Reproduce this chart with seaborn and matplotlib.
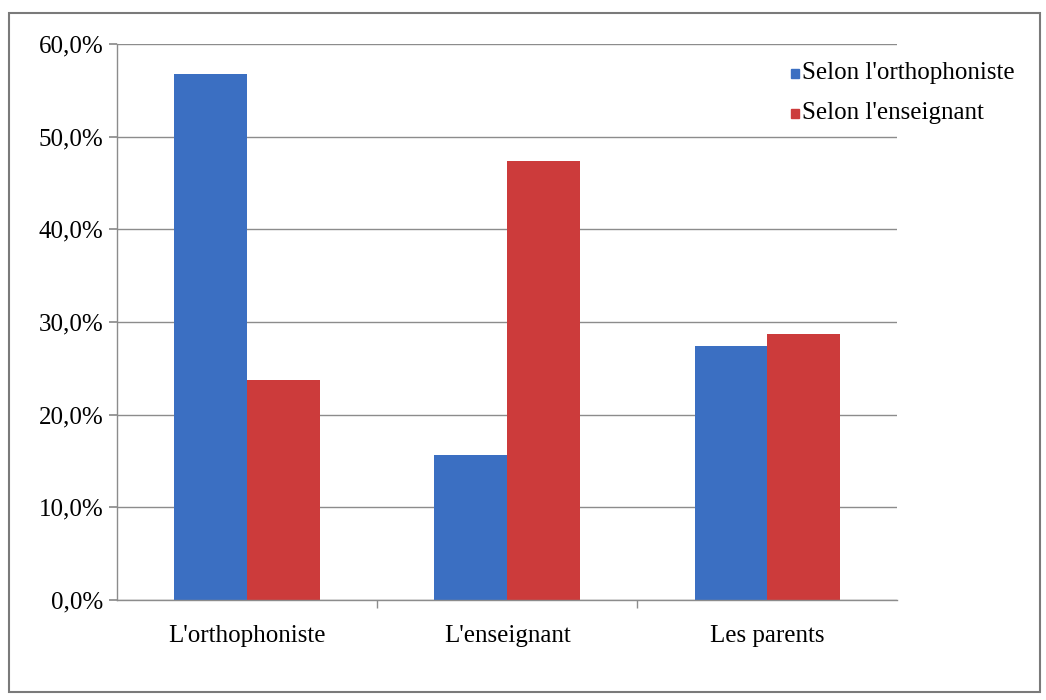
import matplotlib
matplotlib.use("Agg")
import matplotlib.pyplot as plt
from matplotlib.patches import Rectangle
from matplotlib.ticker import FuncFormatter
import pandas as pd
import seaborn as sns

sns.set_theme(style="white")
plt.rcParams["font.family"] = ["Liberation Serif", "DejaVu Serif"]

categories = ["L'orthophoniste", "L'enseignant", "Les parents"]
series = ["Selon l'orthophoniste", "Selon l'enseignant"]
orthophoniste_vals = [56.8, 15.6, 27.4]
enseignant_vals = [23.7, 47.4, 28.7]
colors = ["#3B6FC2", "#CC3B3B"]

df = pd.DataFrame({
    "categorie": categories * 2,
    "serie": [series[0]] * 3 + [series[1]] * 3,
    "valeur": orthophoniste_vals + enseignant_vals,
})

fig = plt.figure(figsize=(10.46, 7.0), dpi=100)
ax = fig.add_axes([0.112, 0.143, 0.746, 0.794])

sns.barplot(data=df, x="categorie", y="valeur", hue="serie",
            palette=colors, width=0.56, saturation=1, linewidth=0,
            ax=ax, legend=False)

ax.set_ylim(0, 60)
ax.set_yticks(range(0, 61, 10))
ax.yaxis.set_major_formatter(FuncFormatter(lambda v, p: f"{v:.1f}%".replace(".", ",")))
ax.grid(axis="y", color="#8c8c8c", linewidth=1)
ax.set_axisbelow(True)
ax.set_xlabel("")
ax.set_ylabel("")
ax.set_xlim(-0.5, 2.5)

for side in ["top", "right"]:
    ax.spines[side].set_visible(False)
for side in ["left", "bottom"]:
    ax.spines[side].set_color("#8c8c8c")
    ax.spines[side].set_linewidth(1)

ax.tick_params(axis="y", left=True, length=6, color="#8c8c8c",
               labelsize=18, labelcolor="black", pad=4)
ax.tick_params(axis="x", bottom=False, labelsize=18, labelcolor="black", pad=12)
# category separator ticks on the x axis
ax.set_xticks([0.5, 1.5], minor=True)
ax.tick_params(axis="x", which="minor", bottom=True, length=6, color="#8c8c8c")

# legend in the top right corner
for i, (name, col) in enumerate(zip(series, colors)):
    y = 0.896 - i * 0.057
    fig.patches.append(Rectangle((0.756, y - 0.008), 0.0075, 0.013,
                                 transform=fig.transFigure, color=col))
    fig.text(0.767, y, name, fontsize=18, va="center", ha="left", color="black")

# outer frame
fig.patches.append(Rectangle((0.009, 0.012), 0.985, 0.97, transform=fig.transFigure,
                             fill=False, edgecolor="#7a7a7a", linewidth=1.5))

plt.savefig("out.png", dpi=100)
plt.close(fig)
